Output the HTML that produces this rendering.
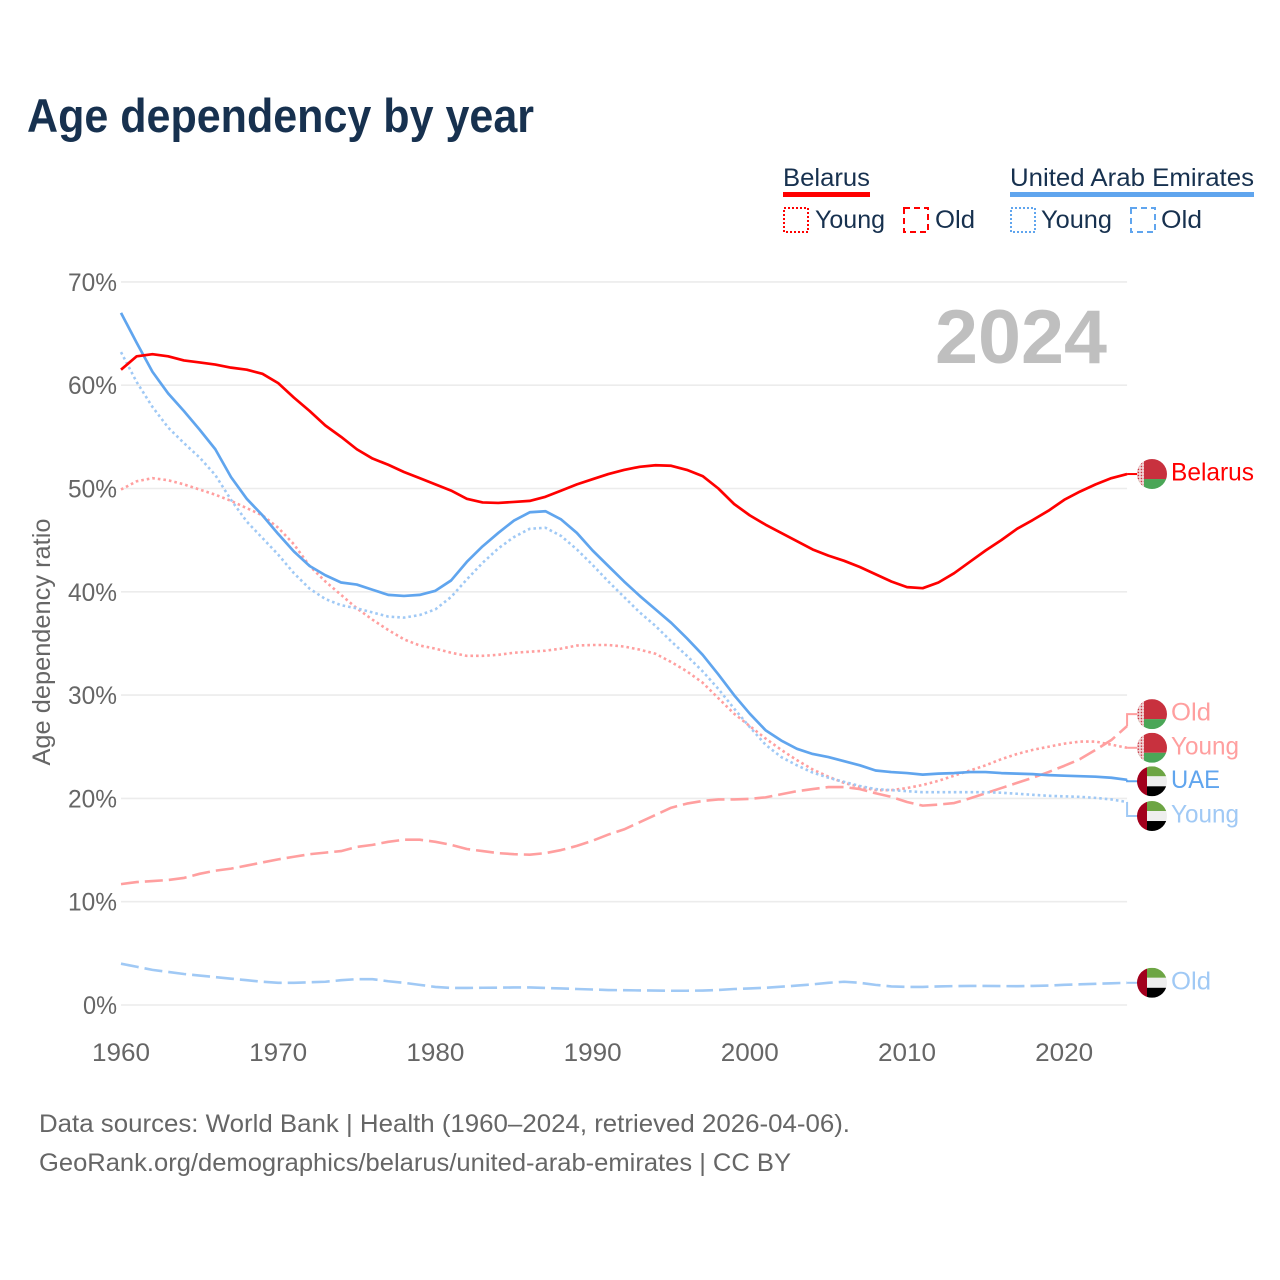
<!DOCTYPE html>
<html lang="en">
<head>
<meta charset="utf-8">
<title>Age dependency by year</title>
<style>
html,body{margin:0;padding:0;background:#fff;}
svg{display:block;font-family:"Liberation Sans",sans-serif;}
</style>
</head>
<body>
<svg id="chart" xmlns="http://www.w3.org/2000/svg" width="1280" height="1280" viewBox="0 0 1280 1280">
  <rect x="0" y="0" width="1280" height="1280" fill="#ffffff"/>
  <text x="27" y="132" font-size="47" font-weight="700" fill="#17314f" textLength="507" lengthAdjust="spacingAndGlyphs">Age dependency by year</text>

  <g>
    <text x="783" y="186" font-size="25" fill="#17314f" textLength="87" lengthAdjust="spacingAndGlyphs">Belarus</text>
    <rect x="783" y="192" width="87" height="5" fill="#ff0000"/>
    <rect x="784" y="208" width="24" height="24" fill="none" stroke="#ff0000" stroke-width="2" stroke-dasharray="2 2"/>
    <text x="815" y="228" font-size="25" fill="#17314f" textLength="70" lengthAdjust="spacingAndGlyphs">Young</text>
    <rect x="904" y="208" width="24" height="24" fill="none" stroke="#ff0000" stroke-width="2" stroke-dasharray="6 4"/>
    <text x="935" y="228" font-size="25" fill="#17314f" textLength="40" lengthAdjust="spacingAndGlyphs">Old</text>

    <text x="1010" y="186" font-size="25" fill="#17314f" textLength="244" lengthAdjust="spacingAndGlyphs">United Arab Emirates</text>
    <rect x="1010" y="192" width="244" height="5" fill="#60a5ee"/>
    <rect x="1011" y="208" width="24" height="24" fill="none" stroke="#60a5ee" stroke-width="2" stroke-dasharray="2 2"/>
    <text x="1041" y="228" font-size="25" fill="#17314f" textLength="71" lengthAdjust="spacingAndGlyphs">Young</text>
    <rect x="1131" y="208" width="24" height="24" fill="none" stroke="#60a5ee" stroke-width="2" stroke-dasharray="6 4"/>
    <text x="1161" y="228" font-size="25" fill="#17314f" textLength="41" lengthAdjust="spacingAndGlyphs">Old</text>
  </g>

  <g id="grid"></g>
  <g id="yticks"></g>
  <g id="xticks"></g>
  <text transform="translate(50,642) rotate(-90)" text-anchor="middle" font-size="25" fill="#666666" textLength="247" lengthAdjust="spacingAndGlyphs">Age dependency ratio</text>
  <text x="935" y="363" font-size="76" font-weight="700" fill="#bfbfbf" textLength="172" lengthAdjust="spacingAndGlyphs">2024</text>
  <g id="series"></g>
  <g id="labels"></g>

  <text x="39" y="1132" font-size="25" fill="#666666" textLength="811" lengthAdjust="spacingAndGlyphs">Data sources: World Bank | Health (1960–2024, retrieved 2026-04-06).</text>
  <text x="39" y="1171" font-size="25" fill="#666666" textLength="752" lengthAdjust="spacingAndGlyphs">GeoRank.org/demographics/belarus/united-arab-emirates | CC BY</text>
</svg>
<script>
const startYear = 1960;
const xTickYears = [1960, 1970, 1980, 1990, 2000, 2010, 2020];
const yTickValues = [0, 10, 20, 30, 40, 50, 60, 70];

const belarusTotal = [61.5,62.8,63.0,62.8,62.4,62.2,62.0,61.7,61.5,61.1,60.2,58.8,57.5,56.1,55.0,53.8,52.9,52.3,51.6,51.0,50.4,49.8,49.0,48.65,48.6,48.7,48.8,49.2,49.8,50.4,50.9,51.4,51.8,52.1,52.25,52.2,51.8,51.2,50.0,48.5,47.4,46.5,45.7,44.9,44.1,43.5,43.0,42.4,41.7,41.0,40.45,40.35,40.9,41.8,42.9,44.0,45.0,46.1,46.95,47.85,48.9,49.7,50.4,51.0,51.4];
const belarusYoung = [49.9,50.7,51.0,50.8,50.4,49.9,49.4,48.8,48.1,47.4,46.2,44.6,42.5,41.0,39.7,38.4,37.3,36.3,35.4,34.8,34.5,34.1,33.8,33.8,33.9,34.1,34.2,34.3,34.5,34.8,34.85,34.85,34.7,34.4,34.0,33.2,32.3,31.2,29.7,28.2,27.0,25.8,24.7,23.7,22.8,22.1,21.5,21.1,20.8,20.8,21.0,21.3,21.7,22.2,22.7,23.2,23.8,24.3,24.7,25.0,25.3,25.5,25.5,25.2,24.9];
const belarusOld = [11.7,11.9,12.0,12.1,12.3,12.7,13.0,13.2,13.5,13.8,14.1,14.35,14.6,14.75,14.9,15.3,15.5,15.8,16.0,16.0,15.8,15.5,15.1,14.9,14.7,14.6,14.55,14.7,15.0,15.4,15.9,16.5,17.0,17.7,18.4,19.1,19.5,19.75,19.9,19.9,19.95,20.1,20.4,20.7,20.9,21.1,21.1,20.9,20.5,20.15,19.65,19.3,19.4,19.55,20.0,20.5,21.0,21.5,22.0,22.55,23.15,23.8,24.7,25.65,27.0];
const uaeTotal = [67.0,64.1,61.3,59.2,57.5,55.7,53.8,51.1,49.0,47.4,45.6,43.9,42.5,41.6,40.9,40.7,40.2,39.7,39.6,39.7,40.1,41.1,42.9,44.4,45.7,46.9,47.7,47.8,47.0,45.7,44.0,42.5,41.0,39.6,38.3,37.0,35.5,33.9,32.0,30.0,28.2,26.6,25.6,24.8,24.3,24.0,23.6,23.2,22.7,22.55,22.45,22.3,22.4,22.45,22.55,22.55,22.45,22.4,22.35,22.25,22.2,22.15,22.1,22.0,21.8];
const uaeYoung = [63.2,60.3,57.9,55.9,54.4,53.0,51.3,48.9,46.8,45.2,43.6,41.8,40.3,39.3,38.7,38.4,38.0,37.6,37.5,37.75,38.3,39.5,41.2,42.8,44.2,45.3,46.1,46.2,45.4,44.1,42.6,41.0,39.5,38.0,36.7,35.2,33.8,32.3,30.6,28.7,26.9,25.2,24.0,23.2,22.5,22.0,21.6,21.2,20.9,20.8,20.7,20.6,20.6,20.6,20.6,20.6,20.55,20.45,20.35,20.25,20.2,20.15,20.05,19.9,19.65];
const uaeOld = [4.0,3.7,3.4,3.2,3.0,2.85,2.7,2.55,2.4,2.25,2.15,2.15,2.2,2.25,2.4,2.5,2.5,2.3,2.15,1.95,1.75,1.65,1.65,1.67,1.68,1.7,1.7,1.65,1.6,1.55,1.5,1.45,1.43,1.41,1.4,1.38,1.38,1.4,1.45,1.55,1.6,1.67,1.77,1.88,2.0,2.15,2.25,2.15,1.95,1.8,1.75,1.75,1.8,1.83,1.85,1.85,1.83,1.82,1.85,1.88,1.95,2.0,2.05,2.1,2.15];

const NS = 'http://www.w3.org/2000/svg';
const xAxis = year => 121 + (year - startYear) * 15.72;
const yAxis = value => 1005 - value * 10.33;
const plotRight = xAxis(2024);

function make(tag, attrs, parent) {
  const node = document.createElementNS(NS, tag);
  for (const key in attrs) node.setAttribute(key, attrs[key]);
  parent.appendChild(node);
  return node;
}

const gridGroup = document.getElementById('grid');
const yTickGroup = document.getElementById('yticks');
const xTickGroup = document.getElementById('xticks');
const seriesGroup = document.getElementById('series');
const labelGroup = document.getElementById('labels');

yTickValues.forEach(value => {
  const line = make('line', {x1: xAxis(1960), x2: plotRight, y1: yAxis(value), y2: yAxis(value), stroke: '#ececec', 'stroke-width': 1.6}, gridGroup);
  
  
  const text = make('text', {x: 117, y: yAxis(value) + 9, 'text-anchor': 'end', 'font-size': 25, fill: '#666666', textLength: value === 0 ? 34 : 49, lengthAdjust: 'spacingAndGlyphs'}, yTickGroup);
  text.textContent = value + '%';
  
  
});

xTickYears.forEach(year => {
  const text = make('text', {x: xAxis(year), y: 1061, 'text-anchor': 'middle', 'font-size': 25, fill: '#666666', textLength: 58, lengthAdjust: 'spacingAndGlyphs'}, xTickGroup);
  text.textContent = String(year);
  
  
});

function drawLine(values, color, dash, width) {
  const points = values.map((value, index) => xAxis(startYear + index).toFixed(2) + ',' + yAxis(value).toFixed(2)).join(' ');
  const attrs = {points: points, fill: 'none', stroke: color, 'stroke-width': width, 'stroke-linejoin': 'round'};
  if (dash) attrs['stroke-dasharray'] = dash;
  return make('polyline', attrs, seriesGroup);
}

const defs = make('defs', {}, document.getElementById('chart'));
const clip = make('clipPath', {id: 'flag-clip'}, defs);
make('circle', {cx: 0, cy: 0, r: 15}, clip);
const ornament = make('pattern', {id: 'ornament', width: 3, height: 3, patternUnits: 'userSpaceOnUse', x: 0, y: 0}, defs);
make('rect', {x: 0, y: 0, width: 3, height: 3, fill: '#f3dcde'}, ornament);
make('rect', {x: 0.7, y: 0.7, width: 1.5, height: 1.5, fill: '#c8313e'}, ornament);

function drawBelarusFlag(cy) {
  const flag = make('g', {transform: 'translate(1152,' + cy + ')', 'clip-path': 'url(#flag-clip)'}, labelGroup);
  make('rect', {x: -15, y: -15, width: 30, height: 20, fill: '#c8313e'}, flag);
  make('rect', {x: -15, y: 5, width: 30, height: 10, fill: '#4aa657'}, flag);
  make('rect', {x: -15, y: -15, width: 7, height: 30, fill: 'url(#ornament)'}, flag);
  return flag;
}

function drawUaeFlag(cy) {
  const flag = make('g', {transform: 'translate(1152,' + cy + ')', 'clip-path': 'url(#flag-clip)'}, labelGroup);
  make('rect', {x: -5, y: -15, width: 20, height: 10, fill: '#6da544'}, flag);
  make('rect', {x: -5, y: -5, width: 20, height: 10, fill: '#eeeeee'}, flag);
  make('rect', {x: -5, y: 5, width: 20, height: 10, fill: '#000000'}, flag);
  make('rect', {x: -15, y: -15, width: 10, height: 30, fill: '#a2001d'}, flag);
  return flag;
}

function drawEnd(values, nudge, color, text, textWidth, drawFlag) {
  const endY = yAxis(values[values.length - 1]);
  const labelY = endY + nudge;
  const link = make('polyline', {points: plotRight + ',' + endY + ' ' + plotRight + ',' + labelY + ' 1138,' + labelY, fill: 'none', stroke: color, 'stroke-width': 2}, labelGroup);
  
  
  const flag = drawFlag(labelY);
  
  
  const label = make('text', {x: 1171, y: labelY + 6.5, 'font-size': 25, fill: color, textLength: textWidth, lengthAdjust: 'spacingAndGlyphs'}, labelGroup);
  label.textContent = text;
  
  
}

const dottedDash = '2.6 3';
const longDash = '18 6';
const solidWidth = 2.7;
const softWidth = 2.6;

const lineUaeOld = drawLine(uaeOld, '#a0c9f5', longDash, softWidth);


const lineBelarusOld = drawLine(belarusOld, '#ff9f9f', longDash, softWidth);


const lineBelarusYoung = drawLine(belarusYoung, '#ff9f9f', dottedDash, softWidth);


const lineUaeYoung = drawLine(uaeYoung, '#a0c9f5', dottedDash, softWidth);


const lineUaeTotal = drawLine(uaeTotal, '#60a5ee', null, solidWidth);


const lineBelarusTotal = drawLine(belarusTotal, '#ff0000', null, solidWidth);



drawEnd(belarusTotal, 0, '#ff0000', 'Belarus', 83, drawBelarusFlag);
drawEnd(belarusOld, -12, '#ff9f9f', 'Old', 40, drawBelarusFlag);
drawEnd(belarusYoung, 0, '#ff9f9f', 'Young', 68, drawBelarusFlag);
drawEnd(uaeTotal, 1.5, '#60a5ee', 'UAE', 49, drawUaeFlag);
drawEnd(uaeYoung, 14, '#a0c9f5', 'Young', 68, drawUaeFlag);
drawEnd(uaeOld, 0, '#a0c9f5', 'Old', 40, drawUaeFlag);
</script>
</body>
</html>
